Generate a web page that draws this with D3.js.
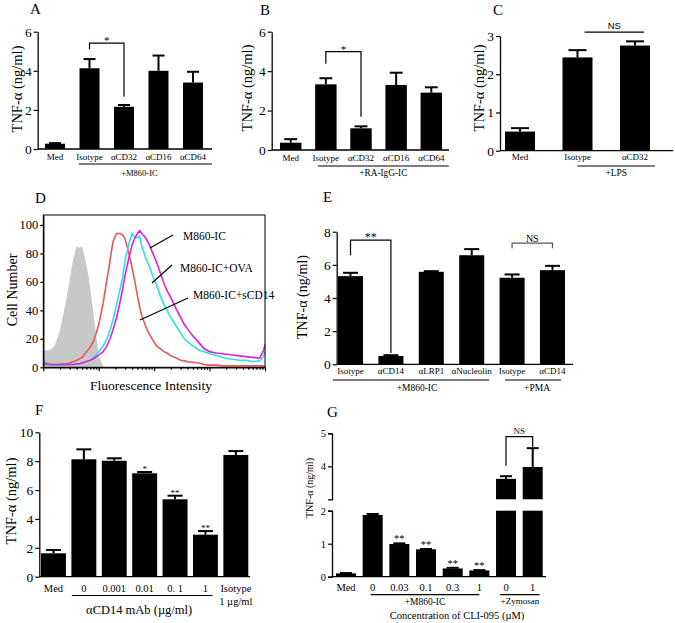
<!DOCTYPE html>
<html>
<head>
<meta charset="utf-8">
<script src="https://cdn.jsdelivr.net/npm/d3@7"></script>
<style>
body{margin:0;background:#fff}
svg{display:block;font-family:"Liberation Serif","Times New Roman",serif}
</style>
</head>
<body>
<script>
// ---- data ----
var catsA = ['Med', 'Isotype', 'αCD32', 'αCD16', 'αCD64'];
var valsA = [0.27, 4.13, 2.16, 4.0, 3.4];
var semA = [0.03, 0.47, 0.09, 0.78, 0.55];

var catsB = ['Med', 'Isotype', 'αCD32', 'αCD16', 'αCD64'];
var valsB = [0.37, 3.33, 1.1, 3.3, 2.91];
var semB = [0.18, 0.31, 0.1, 0.62, 0.27];

var catsC = ['Med', 'Isotype', 'αCD32'];
var valsC = [0.5, 2.44, 2.75];
var semC = [0.09, 0.19, 0.11];

var catsE = ['Isotype', 'αCD14', 'αLRP1', 'αNucleolin', 'Isotype', 'αCD14'];
var valsE = [5.32, 0.5, 5.58, 6.58, 5.22, 5.68];
var semE = [0.2, 0.05, 0.04, 0.37, 0.2, 0.26];

var catsF = ['Med', '0', '0.001', '0.01', '0. 1', '1', 'Isotype\n1 µg/ml'];
var valsF = [1.62, 8.13, 8.03, 7.16, 5.36, 2.91, 8.43];
var semF = [0.23, 0.69, 0.17, 0.09, 0.25, 0.25, 0.27];
var starsF = ['', '', '', '*', '**', '**', ''];

var catsG = ['Med', '0', '0.03', '0.1', '0.3', '1', '0', '1'];
var valsG = [0.1, 1.87, 0.99, 0.83, 0.25, 0.19, 3.62, 3.98];
var semG = [0.01, 0.03, 0.02, 0.01, 0.02, 0.01, 0.08, 0.57];
var starsG = ['', '', '**', '**', '**', '**', '', ''];

// flow histogram (D)
var fluoBins = [1,1.3,1.6,2,2.5,3,3.5,4,4.5,5,6,7,8,9,10,12,14,16,18,21,24,27,30,35,40,45,50,55,60,70,80,95,110,130,150,170,200,250,300,350,400,500,650,800,1000,1300,1700,2200,2800,3500,4500,6000,8000,9500,10000];
var countIso = [12,12,15,26,44,62,77,85,84,85,72,57,38,22,8,1,0,0,0,0,0,0,0,0,0,0,0,0,0,0,0,0,0,0,0,0,0,0,0,0,0,0,0,0,0,0,0,0,0,0,0,0,0,0,0];
var countSCD14 = [2,2,2,2,2.5,3,4,5,6,7,11,14,18,24,30,45,61,75,88,94,94,93,90,80,70,60,50,42,36,29,24,19,15,13,11,10,8,6.5,5,4.5,4,3.5,3,2,1.5,1.5,1,1,1,1,1,1,1,1,1];
var countOVA = [5,2,1.5,1.5,1.5,2,2,2,2.5,3,4,5,7,9,11,15,20,26,33,44,54,63,75,87,94,91,91,92,85,77,72,64,58,50,44,40,35,29,24,20,18,15,12,11,9.5,8.5,7,6,5.5,5,5,4,4.5,8,11];
var countIC = [3,2,2,2,2,2,2,2.5,2.5,3,4,5,6,7.5,8.5,11,15,20,26,35,45,55,65,77,86,91,94,96,94,91,87,80,74,66,59,54,49,41,35,30,27,22,17,13,11,10,9.5,9,8.5,8,7.5,7,6.5,12,16];
var yTicksD = [0, 20, 40, 60, 80, 100];

var SERIF = '"Liberation Serif","Times New Roman",serif';
var fmt = d3.format('d');
var svg = d3.select('body').append('svg').attr('width', 675).attr('height', 623);

function styleAxis(a, fs) {
  a.attr('font-family', null).attr('font-size', null);
  a.selectAll('.domain').attr('stroke-width', 1.3);
  a.selectAll('.tick line').attr('stroke-width', 1.2);
  a.selectAll('text').style('font-size', fs + 'px').style('font-family', SERIF).attr('fill', '#000');
}
function txt(x, y, s, fs, anchor, fam) {
  var t = svg.append('text').attr('x', x).attr('y', y).attr('text-anchor', anchor || 'middle')
    .style('font-size', fs + 'px').text(s);
  if (fam) t.style('font-family', fam);
  return t;
}
function ylabel(x, y, fs, s) {
  svg.append('text').attr('transform', 'translate(' + x + ',' + y + ') rotate(-90)')
    .attr('text-anchor', 'middle').style('font-size', fs + 'px').text(s || 'TNF-α (ng/ml)');
}
function hline(x1, x2, y, w) {
  svg.append('line').attr('x1', x1).attr('x2', x2).attr('y1', y).attr('y2', y)
    .attr('stroke', '#000').attr('stroke-width', w || 1.2);
}
function seg(x1, y1, x2, y2, col, w) {
  svg.append('line').attr('x1', x1).attr('y1', y1).attr('x2', x2).attr('y2', y2)
    .attr('stroke', col || '#000').attr('stroke-width', w || 1.2);
}
function bracket(x1, x2, yTop, y1, y2, col) {
  svg.append('path').attr('d', 'M' + x1 + ',' + y1 + 'V' + yTop + 'H' + x2 + 'V' + y2)
    .attr('fill', 'none').attr('stroke', col || '#000').attr('stroke-width', 1.2);
}

// generic bar panel
function barPanel(p) {
  var idx = p.cats.map(function(c, i) { return i; });
  var x = d3.scaleBand().domain(idx).range(p.xr).paddingInner(p.pad).paddingOuter(0);
  var y = d3.scaleLinear().domain(p.yd).range(p.yr);
  var bw = x.bandwidth();
  var cx = function(i) { return x(i) + bw / 2; };
  var ya = svg.append('g').attr('transform', 'translate(' + p.ax + ',0)')
    .call(d3.axisLeft(y).tickValues(p.ticks).tickFormat(fmt).tickSize(4).tickSizeOuter(0).tickPadding(2));
  styleAxis(ya, p.tickFs);
  hline(p.ax, p.axEnd, y(0), 1.3);
  svg.append('g').selectAll('rect').data(idx).enter().append('rect')
    .attr('x', function(i) { return x(i); })
    .attr('y', function(i) { return y(p.vals[i]); })
    .attr('width', bw)
    .attr('height', function(i) { return y(0) - y(p.vals[i]); })
    .attr('fill', '#000');
  var cap = bw * 0.6;
  idx.forEach(function(i) {
    var top = y(p.vals[i] + p.sem[i]);
    seg(cx(i), y(p.vals[i]), cx(i), top, '#000', 2);
    seg(cx(i) - cap / 2, top, cx(i) + cap / 2, top, '#000', 2);
    if (p.stars && p.stars[i]) txt(cx(i), top + p.starDy, p.stars[i], p.starFs);
  });
  idx.forEach(function(i) {
    var parts = p.cats[i].split('\n');
    parts.forEach(function(s, k) { txt(cx(i), p.labY + k * 13, s, p.labFs); });
  });
  (p.groups || []).forEach(function(gr) {
    var x1 = cx(gr[0]) + gr[2], x2 = cx(gr[1]) + gr[3];
    hline(x1, x2, p.ulY, 1.2);
    txt((x1 + x2) / 2 + (gr[5] || 0), p.capY, gr[4], p.capFs);
  });
  (p.brackets || []).forEach(function(b) {
    var x1 = cx(b.a) + (b.dxa || 0), x2 = cx(b.b) + (b.dxb || 0);
    if (b.flat) hline(x1, x2, y(b.top), 1.2);
    else bracket(x1, x2, y(b.top), y(b.ya), y(b.yb), b.col);
    txt((x1 + x2) / 2, y(b.top) + b.tdy, b.text, b.fs, 'middle', b.fam);
  });
}

// ---- A ----
txt(30, 14, 'A', 15, 'start');
ylabel(22, 89, 14.5);
barPanel({cats: catsA, vals: valsA, sem: semA, xr: [45, 203], pad: 0.42, ax: 37.7, axEnd: 212,
  yd: [0, 6], yr: [149, 31.7], ticks: [0, 2, 4, 6], tickFs: 13.5, labY: 160, labFs: 9,
  ulY: 164, capY: 176, capFs: 8.5, groups: [[1, 4, -10.5, 19, '+M860-IC', -6]],
  brackets: [{a: 1, b: 2, top: 5.42, ya: 5.1, yb: 2.67, text: '*', fs: 11, tdy: 1}]});

// ---- B ----
txt(260, 15, 'B', 15, 'start');
ylabel(252, 88, 14.5);
barPanel({cats: catsB, vals: valsB, sem: semB, xr: [280, 442], pad: 0.39, ax: 271.7, axEnd: 449,
  yd: [0, 6], yr: [150, 31.7], ticks: [0, 2, 4, 6], tickFs: 13.5, labY: 161, labFs: 9,
  ulY: 166, capY: 176, capFs: 9.3, groups: [[1, 4, -8, 17.5, '+RA-IgG-IC']],
  brackets: [{a: 1, b: 2, top: 4.99, ya: 4.37, yb: 1.69, text: '*', fs: 11, tdy: 1}]});

// ---- C ----
txt(493, 15, 'C', 15, 'start');
ylabel(484, 88, 14.5);
barPanel({cats: catsC, vals: valsC, sem: semC, xr: [505, 650], pad: 0.478, ax: 500, axEnd: 673,
  yd: [0, 3], yr: [150.7, 36], ticks: [0, 1, 2, 3], tickFs: 13.5, labY: 160, labFs: 9,
  ulY: 166, capY: 176, capFs: 9.5, groups: [[1, 2, 0, 20, '+LPS']],
  brackets: [{a: 1, b: 2, dxa: 7, dxb: 9, flat: true, top: 3.1, text: 'NS', fs: 9.5, tdy: -3,
    fam: '"Liberation Sans",Arial,sans-serif'}]});

// ---- D ----
txt(35, 203, 'D', 15, 'start');
var xD = d3.scaleLog().domain([1, 10000]).range([43.3, 265]);
var yD = d3.scaleLinear().domain([0, 107]).range([367.3, 215]);
var minor = [];
[1, 10, 100, 1000].forEach(function(dec) { for (var k = 1; k < 10; k++) minor.push(dec * k); });
minor.push(10000);
var histD = fluoBins.map(function(b, i) {
  return {b: b, iso: countIso[i], s: countSCD14[i], o: countOVA[i], ic: countIC[i]};
});
svg.append('path').datum(histD)
  .attr('d', d3.area().x(function(d) { return xD(d.b); }).y0(yD(0)).y1(function(d) { return yD(d.iso); }))
  .attr('fill', '#c8c8c8');
[['s', '#e8585a'], ['o', '#30e0e8'], ['ic', '#e020e0']].forEach(function(sr) {
  svg.append('path').datum(histD)
    .attr('d', d3.line().x(function(d) { return xD(d.b); }).y(function(d) { return yD(d[sr[0]]); }))
    .attr('fill', 'none').attr('stroke', sr[1]).attr('stroke-width', 1.6);
});
svg.append('rect').attr('x', xD(1)).attr('y', yD(107)).attr('width', xD(10000) - xD(1))
  .attr('height', yD(0) - yD(107)).attr('fill', 'none').attr('stroke', '#000').attr('stroke-width', 1);
var xaD = svg.append('g').attr('transform', 'translate(0,' + yD(0) + ')')
  .call(d3.axisBottom(xD).tickValues(minor).tickFormat(function() { return ''; }).tickSizeOuter(0));
styleAxis(xaD, 10);
xaD.selectAll('.tick line').attr('y2', function(d) { return Math.abs(Math.log10(d) % 1) < 1e-6 ? 4 : 2.5; });
seg(150, 248, 173, 235);
seg(152, 283, 172, 265);
seg(140, 320, 188, 298);
txt(183, 240, 'M860-IC', 11.5, 'start');
txt(180, 272, 'M860-IC+OVA', 11.5, 'start');
txt(193, 299, 'M860-IC+sCD14', 11.5, 'start');
ylabel(17, 290, 14, 'Cell Number');
txt(151, 390, 'Fluorescence Intensity', 13.5);
var yaD = svg.append('g').attr('transform', 'translate(' + xD(1) + ',0)')
  .call(d3.axisLeft(yD).tickValues(yTicksD).tickFormat(fmt).tickSize(3).tickSizeOuter(0).tickPadding(2));
styleAxis(yaD, 12.5);

// ---- E ----
txt(323, 202, 'E', 15, 'start');
ylabel(307, 297, 14);
barPanel({cats: catsE, vals: valsE, sem: semE, xr: [338, 565], pad: 0.38, ax: 336.7, axEnd: 573,
  yd: [0, 8], yr: [364.3, 231.7], ticks: [0, 2, 4, 6, 8], tickFs: 13.5, labY: 374, labFs: 9,
  ulY: 380, capY: 391, capFs: 9.5,
  groups: [[0, 3, -17.5, 17.3, '+M860-IC', 6], [4, 5, -7, 8.5, '+PMA', 4]],
  brackets: [{a: 0, b: 1, top: 7.49, ya: 6.58, yb: 0.68, text: '**', fs: 12, tdy: 1},
    {a: 4, b: 5, top: 7.31, ya: 7.0, yb: 7.0, text: 'NS', fs: 10, tdy: -1, col: '#555'}]});

// ---- F ----
txt(35, 415, 'F', 15, 'start');
ylabel(16, 501, 14.5);
barPanel({cats: catsF, vals: valsF, sem: semF, stars: starsF, starDy: 0, starFs: 9,
  xr: [41, 248.3], pad: 0.18, ax: 39.3, axEnd: 250,
  yd: [0, 10], yr: [576.7, 432.3], ticks: [0, 2, 4, 6, 8, 10], tickFs: 13.5, labY: 592, labFs: 10.5,
  ulY: 595.5, capY: 614, capFs: 12.5, groups: [[1, 5, -12, 7, 'αCD14 mAb (µg/ml)', -3]]});

// ---- G (broken axis) ----
txt(327, 417, 'G', 15, 'start');
ylabel(313, 488, 10);
(function() {
  var idx = catsG.map(function(c, i) { return i; });
  var x = d3.scaleBand().domain(idx).range([336, 542.7]).paddingInner(0.25).paddingOuter(0);
  var yLo = d3.scaleLinear().domain([0, 2]).range([576.7, 510.7]);
  var yHi = d3.scaleLinear().domain([3, 5]).range([499.3, 433.3]);
  var bw = x.bandwidth(), cx = function(i) { return x(i) + bw / 2; };
  var ax = 332;
  styleAxis(svg.append('g').attr('transform', 'translate(' + ax + ',0)')
    .call(d3.axisLeft(yLo).tickValues([0, 1, 2]).tickFormat(fmt).tickSize(4).tickSizeOuter(4).tickPadding(2)), 10.5);
  styleAxis(svg.append('g').attr('transform', 'translate(' + ax + ',0)')
    .call(d3.axisLeft(yHi).tickValues([4, 5]).tickFormat(fmt).tickSize(4).tickSizeOuter(4).tickPadding(2)), 10.5);
  hline(ax, 546, yLo(0), 1.3);
  idx.forEach(function(i) {
    var v = valsG[i];
    svg.append('rect').attr('x', x(i)).attr('y', yLo(Math.min(v, 2))).attr('width', bw)
      .attr('height', yLo(0) - yLo(Math.min(v, 2))).attr('fill', '#000');
    var ys = yLo;
    if (v > 3) {
      ys = yHi;
      svg.append('rect').attr('x', x(i)).attr('y', yHi(v)).attr('width', bw)
        .attr('height', yHi(3) - yHi(v)).attr('fill', '#000');
    }
    var top = ys(v + semG[i]);
    seg(cx(i), ys(v), cx(i), top, '#000', 2);
    seg(cx(i) - bw * 0.3, top, cx(i) + bw * 0.3, top, '#000', 2);
    if (starsG[i]) txt(cx(i), top - 1, starsG[i], 10.5);
    txt(cx(i), 591, catsG[i], 10.5);
  });
  hline(cx(1) - 2, cx(5), 594.7, 1.2);
  txt((cx(1) - 2 + cx(5)) / 2, 605, '+M860-IC', 9.5);
  hline(cx(6) - 6, cx(7) + 7, 594.7, 1.2);
  txt((cx(6) + cx(7)) / 2 + 0.5, 604, '+Zymosan', 9);
  txt(457, 619, 'Concentration of CLI-095 (µM)', 10.5);
  bracket(cx(6), cx(7), yHi(4.9), yHi(4.02), yHi(4.58));
  txt((cx(6) + cx(7)) / 2, yHi(4.9) - 3, 'NS', 9);
})();
</script>
</body>
</html>
